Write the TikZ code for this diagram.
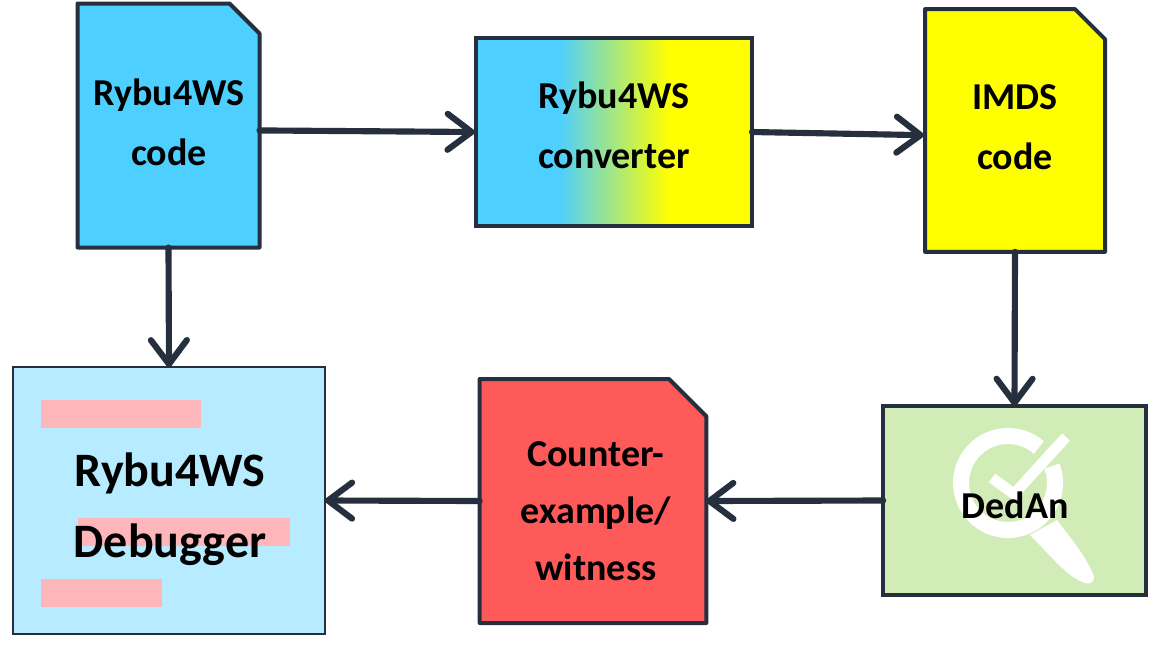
\documentclass[tikz,border=0pt]{standalone}
\usepackage{fontspec}
\setmainfont{Carlito}
\usetikzlibrary{arrows.meta}
\definecolor{linedark}{HTML}{252F3E}
\definecolor{codeblue}{HTML}{4DCFFF}
\definecolor{imdsyellow}{HTML}{FFFF00}
\definecolor{tracered}{HTML}{FF5A5A}
\definecolor{dedangreen}{HTML}{D2ECB8}
\definecolor{debugblue}{HTML}{B7EBFF}
\definecolor{barpink}{HTML}{FFB6BA}
\pgfdeclarehorizontalshading{convfill}{100bp}{color(0bp)=(codeblue); color(40bp)=(codeblue); color(60bp)=(imdsyellow); color(100bp)=(imdsyellow)}
\tikzset{
  fileanchor/.style={rectangle, draw=none, inner sep=0pt, outer sep=0pt},
  fileedge/.style={draw=linedark, line width=3pt, line join=round},
  plainbox/.style={rectangle, draw=linedark, line width=3pt, inner sep=0pt, outer sep=0pt},
  boxtext/.style={align=center, font=\fontsize{28.5}{45}\selectfont\bfseries, inner sep=0pt},
  flow/.style={draw=linedark, line width=4.6pt, line cap=round, -{Straight Barb[length=18pt,width=27pt,round]}},
  pinkbar/.style={fill=barpink, draw=none}
}
% outline of a file with its corner cut off
\newcommand{\fileoutline}[3]{\path[fileedge, fill=#2] (#1.north west) -- ([xshift=-#3]#1.north east) -- ([yshift=-#3]#1.north east) -- (#1.south east) -- (#1.south west) -- cycle;}
\begin{document}
\begin{tikzpicture}[x=0.75pt, y=0.75pt]
\useasboundingbox (0,0) rectangle (1154,-647);
% files and boxes
\node[fileanchor, minimum width=136.5pt, minimum height=183pt] (rybucode) at (168.5,-125.5) {};
\fileoutline{rybucode}{codeblue}{22.5pt}
\node[plainbox, shade, shading=convfill, minimum width=207pt, minimum height=141pt] (converter) at (614,-132) {};
\node[fileanchor, minimum width=135pt, minimum height=182pt] (imdscode) at (1015,-130.5) {};
\fileoutline{imdscode}{imdsyellow}{22.5pt}
\node[plainbox, fill=dedangreen, minimum width=197pt, minimum height=142pt] (dedan) at (1014.5,-500.5) {};
\node[fileanchor, minimum width=170pt, minimum height=183pt] (witness) at (593,-501) {};
\fileoutline{witness}{tracered}{28pt}
\node[plainbox, fill=debugblue, line width=1.6pt, minimum width=234pt, minimum height=200pt] (debugger) at (169,-500.5) {};
% pink bars of the debugger
\fill[pinkbar] (41,-400) rectangle (201,-428);
\fill[pinkbar] (78,-518) rectangle (290,-546);
\fill[pinkbar] (41,-579) rectangle (162,-607);
% magnifier with check mark
\draw[white, line width=12pt] (1008,-483) ++(49:47) arc (49:381:47);
\fill[white] (1030,-535) .. controls (1050,-555) and (1068,-578) .. (1085,-583)
  .. controls (1092,-585) and (1096,-580) .. (1093,-574)
  .. controls (1085,-555) and (1072,-540) .. (1057,-520) -- cycle;
\draw[white, line width=8pt] (992,-478) -- (1014,-494) -- (1066,-437);
% labels
\node[boxtext] (codelabel) at (169,-122) {Rybu4WS\\code};
\node[boxtext] (convlabel) at (614,-125.5) {Rybu4WS\\converter};
\node[boxtext] (imdslabel) at (1015,-127.5) {IMDS\\code};
\node[boxtext] (dedanlabel) at (1015,-505) {DedAn};
\node[boxtext, font=\fontsize{28.5}{42.8}\selectfont\bfseries] (witnesslabel) at (596,-511) {Counter-\\example/\\witness};
\node[boxtext, font=\fontsize{36}{53}\selectfont\bfseries] (debuglabel) at (170,-509) {Rybu4WS\\Debugger};
% connectors
\draw[flow] ([yshift=-3.7pt]rybucode.east) -- ([xshift=-1pt]converter.west);
\draw[flow] (converter.east) -- ([xshift=-1pt,yshift=-3.5pt]imdscode.west);
\draw[flow] (rybucode.south) -- (debugger.north);
\draw[flow] (imdscode.south) -- (dedan.north);
\draw[flow] (dedan.west) -- (witness.east);
\draw[flow] (witness.west) -- (debugger.east);
\end{tikzpicture}
\end{document}
